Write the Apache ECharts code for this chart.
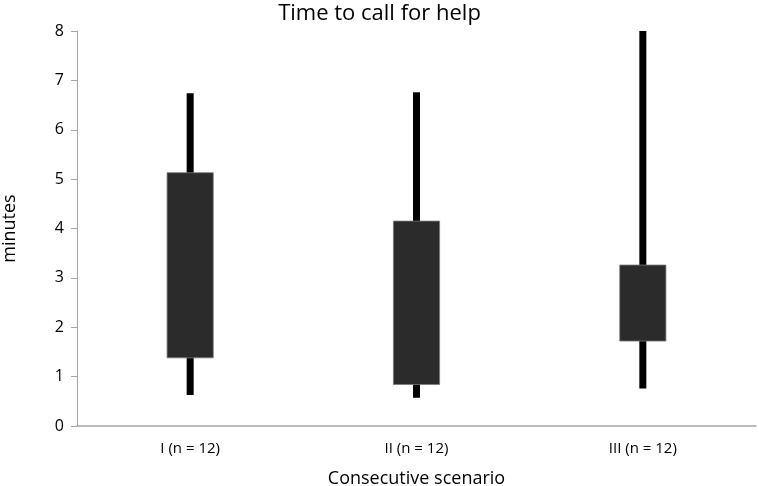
<!DOCTYPE html>
<html>
<head>
<meta charset="utf-8">
<script src="https://cdn.jsdelivr.net/npm/echarts@6/dist/echarts.min.js"></script>
<style>html,body{margin:0;padding:0;background:#fff;}#c{width:759px;height:486px;}</style>
</head>
<body>
<div id="c"></div>
<script>
var categories = ['I (n = 12)', 'II (n = 12)', 'III (n = 12)'];
var whiskerLow = [0.63, 0.57, 0.76];
var boxLow = [1.38, 0.84, 1.72];
var boxHigh = [5.13, 4.15, 3.26];
var whiskerHigh = [6.74, 6.76, 8.0];
var yTicks = [0, 1, 2, 3, 4, 5, 6, 7, 8];

var data = categories.map(function (c, i) {
  return [i, whiskerLow[i], boxLow[i], boxHigh[i], whiskerHigh[i]];
});

var chart = echarts.init(document.getElementById('c'), null, {renderer: 'canvas'});
var font = '"Open Sans", "Noto Sans", sans-serif';
chart.setOption({
  animation: false,
  backgroundColor: '#fff',
  title: {
    text: 'Time to call for help',
    left: 'center',
    top: -2,
    textStyle: {fontFamily: font, fontSize: 22, fontWeight: 'normal', color: '#000'}
  },
  grid: {left: 77, right: 3, top: 31, bottom: 60, outerBoundsMode: 'none', containLabel: false},
  xAxis: {
    type: 'category',
    data: categories,
    name: 'Consecutive scenario',
    nameLocation: 'middle',
    nameGap: 44,
    nameTextStyle: {fontFamily: font, fontSize: 18, color: '#000'},
    axisLine: {lineStyle: {color: '#a6a6a6', width: 1.5}},
    axisTick: {show: false},
    axisLabel: {fontFamily: font, fontSize: 15, color: '#000', margin: 15}
  },
  yAxis: {
    type: 'value',
    min: 0,
    max: 8,
    interval: 1,
    name: 'minutes',
    nameLocation: 'middle',
    nameGap: 58,
    nameRotate: 90,
    nameTextStyle: {fontFamily: font, fontSize: 18, color: '#000'},
    axisLine: {show: true, lineStyle: {color: '#a6a6a6', width: 1}},
    axisTick: {show: true, length: 6, lineStyle: {color: '#a6a6a6'}},
    splitLine: {show: false},
    axisLabel: {fontFamily: font, fontSize: 16, color: '#000', margin: 13,
      formatter: function (v) { return yTicks.indexOf(v) >= 0 ? String(v) : ''; }}
  },
  series: [{
    type: 'custom',
    data: data,
    encode: {x: 0, y: [1, 2, 3, 4]},
    renderItem: function (params, api) {
      var idx = api.value(0);
      var pLow = api.coord([idx, api.value(1)]);
      var pQ1 = api.coord([idx, api.value(2)]);
      var pQ3 = api.coord([idx, api.value(3)]);
      var pHigh = api.coord([idx, api.value(4)]);
      var band = api.size([1, 0])[0];
      var bw = band * 0.204;
      var ww = 7;
      return {
        type: 'group',
        children: [
          {type: 'rect', shape: {x: pHigh[0] - ww / 2, y: pHigh[1], width: ww, height: pLow[1] - pHigh[1]},
            style: {fill: '#000'}},
          {type: 'rect', shape: {x: pQ3[0] - bw / 2, y: pQ3[1], width: bw, height: pQ1[1] - pQ3[1]},
            style: {fill: '#2b2b2b', stroke: '#7a7a7a', lineWidth: 0.8}}
        ]
      };
    }
  }]
});
</script>
</body>
</html>
